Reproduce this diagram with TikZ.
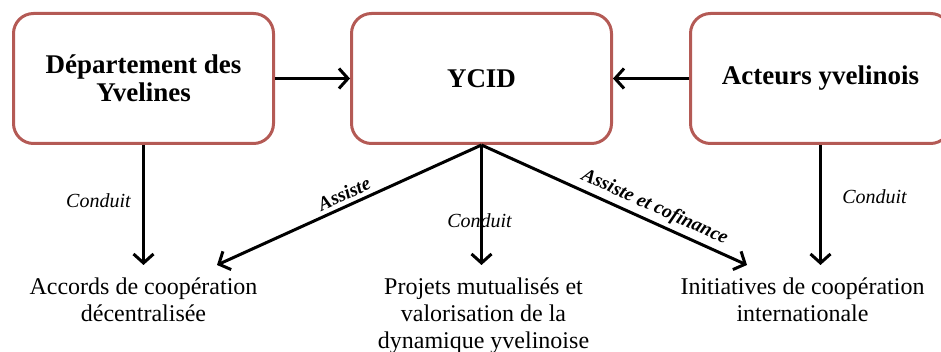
\documentclass[tikz,border=0pt]{standalone}
\usepackage{fontspec}
\setmainfont{Liberation Serif}
\usetikzlibrary{arrows.meta,positioning}
\definecolor{boxred}{RGB}{180,90,85}

\begin{document}
\begin{tikzpicture}[x=1pt,y=-1pt,
  node distance=120pt and 75pt,
  box/.style={draw=boxred,line width=3pt,rounded corners=20pt,align=center,
              minimum width=260pt,minimum height=130pt,
              font=\bfseries\fontsize{27}{28.5}\selectfont},
  target/.style={align=center,inner xsep=2pt,inner ysep=12.6pt,
              font=\fontsize{24}{27}\selectfont},
  arr/.style={-{Straight Barb[length=9pt,width=20pt]},line width=3pt},
  lbl/.style={font=\itshape\fontsize{20}{24}\selectfont},
  slbl/.style={font=\bfseries\itshape\fontsize{19.5}{22}\selectfont,sloped,above,inner sep=4pt}]
\useasboundingbox (0,0) rectangle (941,352);
\node[box] (dep) at (143.5,78.5) {Département des\\Yvelines};
\node[box,right=of dep] (ycid) {YCID};
\node[box,right=76pt of ycid] (act) {Acteurs yvelinois};
\node[target,below=of dep] (accords) {Accords de coopération\\décentralisée};
\node[target,below=of ycid,xshift=2pt] (projets) {Projets mutualisés et\\valorisation de la\\dynamique yvelinoise};
\node[target,below=of act,xshift=-18pt] (initiatives) {Initiatives de coopération\\internationale};
\node[lbl] (condmid) at (479.5,221) {Conduit};
\draw[arr] (dep.east) -- (ycid.west);
\draw[arr] (act.west) -- (ycid.east);
\draw[arr] (dep.south) -- (dep.south |- accords.north) node[lbl,pos=.46,left=8pt]{Conduit};
\draw[arr] (act.south) -- (act.south |- initiatives.north) node[lbl,pos=.43,right=17pt]{Conduit};
\draw[arr] (ycid.south) -- (ycid.south |- projets.north);
\draw[arr] (ycid.south) -- (accords.north -| 217,0) node[slbl,pos=.5]{Assiste};
\draw[arr] (ycid.south) -- (initiatives.north -| 747,0) node[slbl,pos=.63]{Assiste et cofinance};
\end{tikzpicture}
\end{document}
